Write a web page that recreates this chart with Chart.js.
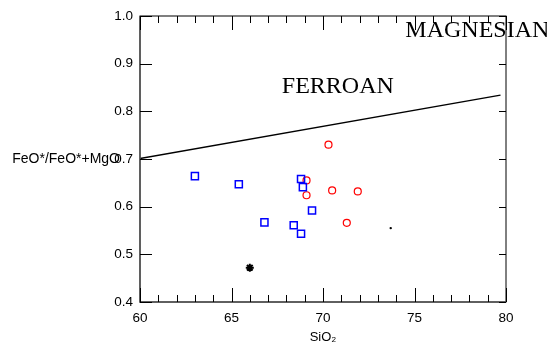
<!DOCTYPE html>
<html>
<head>
<meta charset="utf-8">
<script src="https://cdn.jsdelivr.net/npm/chart.js@4"></script>
<style>
  html, body { margin: 0; padding: 0; background: #fff; }
  #wrap { width: 547px; height: 345px; }
</style>
</head>
<body>
<div id="wrap"><canvas id="chart" width="547" height="345"></canvas></div>
<script>
// SiO2 vs FeO*/(FeO*+MgO)
const blueSiO2 = [63.0, 65.4, 66.8, 68.4, 68.8, 68.8, 68.9, 69.4];
const blueFe = [0.664, 0.647, 0.567, 0.561, 0.543, 0.658, 0.641, 0.592];

const redSiO2 = [70.3, 69.1, 69.1, 70.5, 71.9, 71.3];
const redFe = [0.730, 0.655, 0.624, 0.634, 0.632, 0.566];

const starSiO2 = [66.0];
const starFe = [0.472];

const dotSiO2 = [73.7];
const dotFe = [0.555];

// ferroan / magnesian boundary
const lineSiO2 = [60, 79.7];
const lineFe = [0.701, 0.834];

const xTicks = [60, 65, 70, 75, 80];
const yTicks = [0.4, 0.5, 0.6, 0.7, 0.8, 0.9, 1.0];

const fieldNames = ["FERROAN", "MAGNESIAN"];
const fieldSiO2 = [67.75, 74.5];
const fieldFe = [0.838, 0.955];

const pts = (xs, ys) => xs.map((x, i) => ({ x: x, y: ys[i] }));

// frame, inward ticks, horizontal y title, field names
const framePlugin = {
  id: "frame",
  afterDraw(chart) {
    const { ctx, chartArea: a, scales: { x, y } } = chart;
    ctx.save();
    ctx.strokeStyle = "#000";
    ctx.lineWidth = 1;
    ctx.strokeRect(a.left, a.top, a.right - a.left, a.bottom - a.top);
    ctx.strokeStyle = "#555";
    ctx.lineWidth = 1.5;
    ctx.beginPath();
    ctx.moveTo(a.left, a.top);
    ctx.lineTo(a.left, a.bottom);
    ctx.lineTo(a.right, a.bottom);
    ctx.stroke();

    ctx.strokeStyle = "#000";
    ctx.lineWidth = 1;
    ctx.beginPath();
    for (let v = 60; v <= 80; v++) {
      const px = Math.round(x.getPixelForValue(v)) + 0.5;
      const major = v % 5 === 0;
      ctx.moveTo(px, a.bottom);
      ctx.lineTo(px, a.bottom - (major ? 14 : 7));
      ctx.moveTo(px, a.top);
      ctx.lineTo(px, a.top + (major ? 14 : 7));
    }
    yTicks.forEach(v => {
      const py = Math.round(y.getPixelForValue(v)) + 0.5;
      ctx.moveTo(a.left, py);
      ctx.lineTo(a.left + 12, py);
      ctx.moveTo(a.right, py);
      ctx.lineTo(a.right - 7, py);
    });
    ctx.stroke();

    ctx.fillStyle = "#000";
    ctx.font = "14px 'Liberation Sans', Arial, sans-serif";
    ctx.textAlign = "right";
    ctx.textBaseline = "middle";
    ctx.fillText("FeO*/FeO*+MgO", 120, y.getPixelForValue(0.7));

    ctx.font = "24px 'Liberation Serif', 'Times New Roman', serif";
    ctx.textAlign = "left";
    ctx.textBaseline = "alphabetic";
    fieldNames.forEach((t, i) => {
      ctx.fillText(t, x.getPixelForValue(fieldSiO2[i]), y.getPixelForValue(fieldFe[i]));
    });
    ctx.restore();
  }
};

new Chart(document.getElementById("chart"), {
  type: "scatter",
  data: {
    datasets: [
      {
        type: "line",
        data: pts(lineSiO2, lineFe),
        borderColor: "#000",
        borderWidth: 1.5,
        pointRadius: 0,
        fill: false
      },
      {
        data: pts(blueSiO2, blueFe),
        pointStyle: "rect",
        pointRadius: 5,
        borderColor: "#0000ff",
        backgroundColor: "rgba(0,0,0,0)",
        borderWidth: 1.5
      },
      {
        data: pts(redSiO2, redFe),
        pointStyle: "circle",
        pointRadius: 3.5,
        borderColor: "#ff0000",
        backgroundColor: "rgba(0,0,0,0)",
        borderWidth: 1.2
      },
      {
        data: pts(starSiO2, starFe),
        pointStyle: "star",
        pointRadius: 4,
        borderColor: "#000",
        backgroundColor: "#000",
        borderWidth: 2
      },
      {
        data: pts(dotSiO2, dotFe),
        pointStyle: "circle",
        pointRadius: 1.2,
        borderColor: "#000",
        backgroundColor: "#000",
        borderWidth: 0
      }
    ]
  },
  options: {
    responsive: false,
    animation: false,
    layout: { padding: { top: 16, right: 41, left: 0, bottom: 0 } },
    plugins: {
      legend: { display: false },
      tooltip: { enabled: false }
    },
    scales: {
      x: {
        type: "linear",
        min: 60,
        max: 80,
        afterFit: s => { s.height = 43; },
        afterBuildTicks: s => { s.ticks = xTicks.map(v => ({ value: v })); },
        grid: { display: false, drawTicks: false },
        border: { display: false },
        ticks: {
          color: "#000",
          padding: 8,
          font: { family: "'Liberation Sans', Arial, sans-serif", size: 13.5 }
        },
        title: {
          display: true,
          text: "SiO\u2082",
          color: "#000",
          padding: { top: 0, bottom: 0 },
          font: { family: "'Liberation Sans', Arial, sans-serif", size: 13 }
        }
      },
      y: {
        type: "linear",
        min: 0.4,
        max: 1.0,
        afterFit: s => { s.width = 140; },
        afterBuildTicks: s => { s.ticks = yTicks.map(v => ({ value: v })); },
        grid: { display: false, drawTicks: false },
        border: { display: false },
        ticks: {
          color: "#000",
          padding: 7,
          callback: v => v.toFixed(1),
          font: { family: "'Liberation Sans', Arial, sans-serif", size: 13.5 }
        }
      }
    }
  },
  plugins: [framePlugin]
});
</script>
</body>
</html>
